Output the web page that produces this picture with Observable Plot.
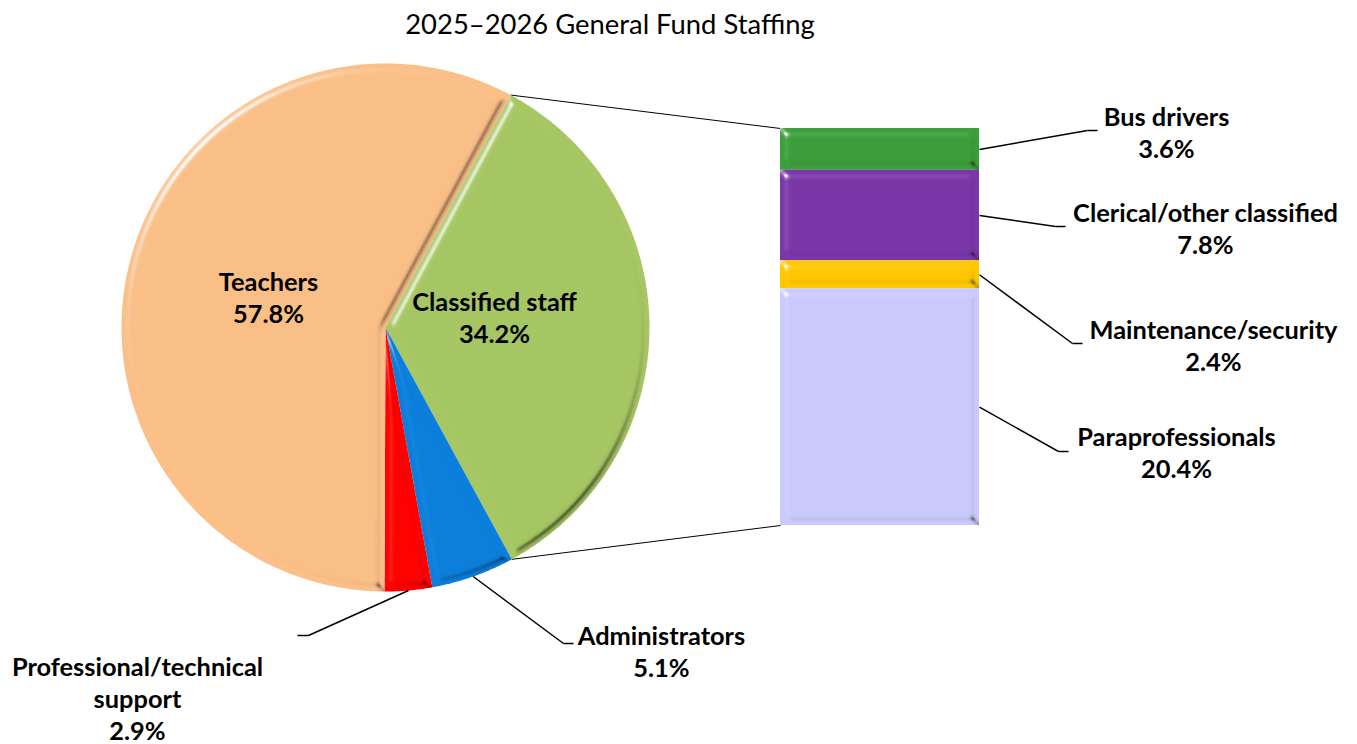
<!DOCTYPE html>
<html><head><meta charset="utf-8">
<script src="https://cdn.jsdelivr.net/npm/d3@7"></script>
<script src="https://cdn.jsdelivr.net/npm/@observablehq/plot@0.6"></script>
<style>
body{margin:0;background:#fff;font-family:Lato,sans-serif}
#title{width:1220px;height:50px;line-height:48px;text-align:center;font-size:27.4px;color:#000;font-family:Lato,sans-serif}
</style>
</head><body>
<div id="title"></div>
<div id="chart"></div>
<script>
const chartTitle = "2025–2026 General Fund Staffing";
// Main pie (clockwise, starting with the split-out slice)
const categories = ["Classified staff", "Administrators", "Professional/technical support", "Teachers"];
const shares = [34.2, 5.1, 2.9, 57.8];
const pieColors = ["#A7C764", "#0B7FDB", "#FF0000", "#FBBF88"];
// Breakdown of classified staff (top to bottom of the bar)
const subCategories = ["Bus drivers", "Clerical/other classified", "Maintenance/security", "Paraprofessionals"];
const subShares = [3.6, 7.8, 2.4, 20.4];
const subColors = ["#3B9F3B", "#7A37A8", "#FFC800", "#CACAFC"];
const labelWrap = {"Professional/technical support": "Professional/technical\nsupport"};

document.getElementById("title").textContent = chartTitle;

const W = 1357, H = 694, TOP = 50;
const cx = 385, cy = 327, R = 264, startDeg = 28.3;
const barX1 = 780, barX2 = 979, barTop = 128, barBottom = 525;
const FS = 25.4, LH = 32 / 25.4;

const pieData = categories.map((name, i) => ({name, share: shares[i]}));
const a0 = startDeg * Math.PI / 180;
const arcs = d3.pie().sort(null).value(d => d.share).startAngle(a0).endAngle(a0 + 2 * Math.PI)(pieData);
const pt = (a, r = R) => [cx + r * Math.sin(a), cy - r * Math.cos(a)];

const slicePoints = arcs.flatMap(a => {
  const n = Math.max(4, Math.ceil((a.endAngle - a.startAngle) / 0.008));
  const pts = [{name: a.data.name, x: cx, y: cy}];
  for (let i = 0; i <= n; i++) {
    const t = a.startAngle + (a.endAngle - a.startAngle) * i / n;
    const [x, y] = pt(t);
    pts.push({name: a.data.name, x, y});
  }
  return pts;
});

// bar segments
const k = (barBottom - barTop) / d3.sum(subShares);
let cum = 0;
const barData = subCategories.map((name, i) => {
  const y1 = barTop + cum * k; cum += subShares[i];
  return {name, share: subShares[i], x1: barX1, x2: barX2, y1, y2: barTop + cum * k};
});

// connectors from the split slice to the bar
const split = arcs[0];
const [sx0, sy0] = pt(split.startAngle), [sx1, sy1] = pt(split.endAngle);
const connectors = [
  {x1: sx0, y1: sy0, x2: barX1, y2: barTop},
  {x1: sx1, y1: sy1, x2: barX1, y2: barBottom}
];

// leader lines
const subElbows = [[1087, 130, 1097], [1055, 226, 1065], [1072, 343, 1082], [1058, 451, 1068]];
const leaders = [];
barData.forEach((d, i) => {
  const [ex, ey, hx] = subElbows[i];
  const my = (d.y1 + d.y2) / 2;
  leaders.push({x1: barX2, y1: my, x2: ex, y2: ey}, {x1: ex, y1: ey, x2: hx, y2: ey});
});
const pieElbows = {"Administrators": [563, 643, 573], "Professional/technical support": [308, 635, 297]};
arcs.forEach(a => {
  const e = pieElbows[a.data.name];
  if (!e) return;
  const [px, py] = pt((a.startAngle + a.endAngle) / 2);
  leaders.push({x1: px, y1: py, x2: e[0], y2: e[1]}, {x1: e[0], y1: e[1], x2: e[2], y2: e[1]});
});

// labels
const pieLabelPos = {
  "Classified staff": [494, 316.5],
  "Administrators": [661, 650],
  "Professional/technical support": [137, 697],
  "Teachers": [268, 296]
};
const subLabelPos = [[1166, 131.5], [1205, 227.5], [1213, 344], [1176, 451.5]];
const labels = [
  ...categories.map((name, i) => ({x: pieLabelPos[name][0], y: pieLabelPos[name][1],
    text: (labelWrap[name] || name) + "\n" + shares[i].toFixed(1) + "%"})),
  ...subCategories.map((name, i) => ({x: subLabelPos[i][0], y: subLabelPos[i][1],
    text: name + "\n" + subShares[i].toFixed(1) + "%"}))
];

const plot = Plot.plot({
  width: W, height: H, margin: 0,
  style: {fontFamily: "Lato, sans-serif", background: "white"},
  x: {type: "linear", domain: [0, W], range: [0, W], axis: null},
  y: {type: "linear", domain: [TOP, TOP + H], range: [0, H], axis: null},
  color: {domain: [...categories, ...subCategories], range: [...pieColors, ...subColors]},
  marks: [
    Plot.link(connectors, {x1: "x1", y1: "y1", x2: "x2", y2: "y2", stroke: "black", strokeWidth: 1}),
    Plot.line(slicePoints, {x: "x", y: "y", z: "name", fill: "name", stroke: "none", curve: "linear"}),
    Plot.rect(barData, {x1: "x1", x2: "x2", y1: "y1", y2: "y2", fill: "name"}),
    Plot.link(leaders, {x1: "x1", y1: "y1", x2: "x2", y2: "y2", stroke: "black", strokeWidth: 1.5}),
    Plot.text(labels, {x: "x", y: "y", text: "text", fontSize: FS, fontWeight: "bold", lineHeight: LH,
      textAnchor: "middle", lineAnchor: "middle", fill: "black"})
  ]
});

// bevel effect
const svg = d3.select(plot);
const defs = svg.insert("defs", ":first-child");
const f = defs.append("filter").attr("id", "bevel").attr("x", "-5%").attr("y", "-5%").attr("width", "110%").attr("height", "110%")
  .attr("color-interpolation-filters", "sRGB");
f.append("feGaussianBlur").attr("in", "SourceAlpha").attr("stdDeviation", 4).attr("result", "blur");
const hi = f.append("feSpecularLighting").attr("in", "blur").attr("surfaceScale", 6).attr("specularConstant", 1)
  .attr("specularExponent", 35).attr("lighting-color", "white").attr("result", "hi");
hi.append("feDistantLight").attr("azimuth", 225).attr("elevation", 30);
f.append("feComposite").attr("in", "hi").attr("in2", "SourceAlpha").attr("operator", "in").attr("result", "hiIn");
const lo = f.append("feSpecularLighting").attr("in", "blur").attr("surfaceScale", 6).attr("specularConstant", 1)
  .attr("specularExponent", 35).attr("lighting-color", "white").attr("result", "lo");
lo.append("feDistantLight").attr("azimuth", 45).attr("elevation", 30);
f.append("feColorMatrix").attr("in", "lo").attr("type", "matrix")
  .attr("values", "0 0 0 0 0  0 0 0 0 0  0 0 0 0 0  0 0 0 0.5 0").attr("result", "loA");
f.append("feComposite").attr("in", "loA").attr("in2", "SourceAlpha").attr("operator", "in").attr("result", "loIn");
const m = f.append("feMerge");
m.append("feMergeNode").attr("in", "SourceGraphic");
m.append("feMergeNode").attr("in", "loIn");
m.append("feMergeNode").attr("in", "hiIn");
svg.selectAll('g[aria-label="line"] path, g[aria-label="rect"] rect').attr("filter", "url(#bevel)");

document.getElementById("chart").appendChild(plot);
</script>
</body></html>
